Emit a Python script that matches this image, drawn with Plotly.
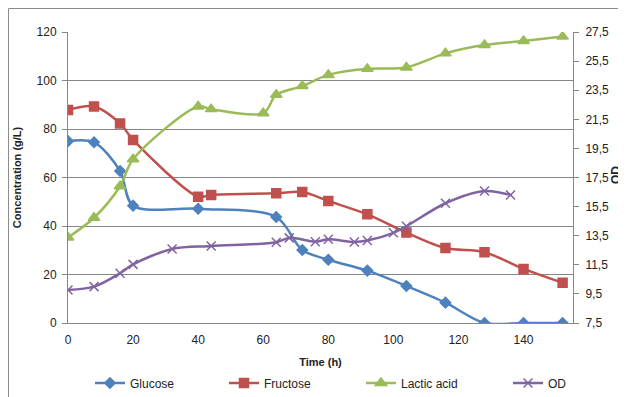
import plotly.graph_objects as go

glu_t = [0, 8, 16, 20, 40, 64, 72, 80, 92, 104, 116, 128, 140, 152]
glu_v = [75.0, 74.5, 62.7, 48.4, 47.1, 43.7, 30.1, 26.1, 21.6, 15.3, 8.4, 0, 0, 0]

fru_t = [0, 8, 16, 20, 40, 44, 64, 72, 80, 92, 104, 116, 128, 140, 152]
fru_v = [87.8, 89.3, 82.3, 75.5, 52.1, 52.8, 53.5, 54.0, 50.3, 44.8, 37.3, 30.9, 29.2, 22.3, 16.6]

lac_t = [0, 8, 16, 20, 40, 44, 60, 64, 72, 80, 92, 104, 116, 128, 140, 152]
lac_v = [35.3, 43.4, 56.4, 67.5, 89.3, 88.2, 86.5, 94.1, 97.7, 102.3, 104.8, 105.4, 111.2, 114.6, 116.3, 118.1]

od_t = [0, 8, 16, 20, 32, 44, 64, 68, 76, 80, 88, 92, 100, 104, 116, 128, 136]
od_v = [9.77, 10.0, 10.92, 11.53, 12.59, 12.79, 13.05, 13.35, 13.09, 13.25, 13.07, 13.17, 13.7, 14.15, 15.73, 16.57, 16.3]

FONT = "Liberation Sans"
W, H = 618, 389
L, T, PW, PH = 60, 24, 505, 291

def px(xf):
    return (xf - L) / PW

def py(yf):
    return (T + PH - yf) / PH

fig = go.Figure()

def add(t, v, name, color, symbol, size, legend, yaxis="y"):
    fig.add_trace(go.Scatter(
        x=t, y=v, name=name, yaxis=yaxis, mode="lines+markers", legend=legend,
        line=dict(color=color, width=2.5, shape="spline", smoothing=0.9),
        marker=dict(symbol=symbol, size=size, color=color,
                    line=dict(color=color, width=1.5)),
    ))

add(glu_t, glu_v, "Glucose", "#4F81BD", "diamond", 8, "legend")
add(fru_t, fru_v, "Fructose", "#C0504D", "square", 9, "legend2")
add(lac_t, lac_v, "Lactic acid", "#9BBB59", "triangle-up", 10, "legend3")
add(od_t, od_v, "OD", "#8064A2", "x-thin-open", 9, "legend4", yaxis="y2")

def leg(xfig):
    return dict(orientation="h", x=px(xfig), y=py(375), xanchor="left", yanchor="middle",
                font=dict(size=12, color="#222"), bgcolor="rgba(0,0,0,0)",
                itemwidth=30)

fig.update_layout(
    width=W, height=H,
    margin=dict(l=L, r=W - L - PW, t=T, b=H - T - PH, autoexpand=False),
    paper_bgcolor="white", plot_bgcolor="white",
    font=dict(family=FONT, size=12, color="#222"),
    separators=",.",
    showlegend=True,
    legend=leg(82), legend2=leg(216), legend3=leg(353), legend4=leg(500),
    xaxis=dict(range=[0, 155.2], tick0=0, dtick=20, showgrid=False,
               showline=True, linecolor="#868686", linewidth=1,
               ticks="", zeroline=False, ticklabelstandoff=6,
               title=dict(text="<b>Time (h)</b>", font=dict(size=11), standoff=11)),
    yaxis=dict(range=[0, 120], tick0=0, dtick=20, showgrid=True, gridcolor="#868686",
               gridwidth=1, showline=True, linecolor="#868686", ticks="outside",
               ticklen=5, tickcolor="#868686", zeroline=False, ticklabelstandoff=3,
               title=dict(text="<b>Concentration (g/L)</b>", font=dict(size=11), standoff=12)),
    yaxis2=dict(range=[7.5, 27.5], tick0=7.5, dtick=2, overlaying="y", side="right",
                showgrid=False, showline=True, linecolor="#868686", ticks="outside",
                ticklen=5, tickcolor="#868686", tickformat=".1f", zeroline=False,
                ticklabelstandoff=4),
    shapes=[dict(type="rect", xref="paper", yref="paper",
                 x0=px(0.5), x1=px(W + 50), y0=py(H + 50), y1=py(0.5),
                 line=dict(color="#8c8c8c", width=1), layer="below")],
    annotations=[dict(text="<b>OD</b>", xref="paper", yref="paper",
                      x=px(617), y=py(167), showarrow=False,
                      textangle=-90, font=dict(size=12, color="#222"))],
)

fig.write_html("out.html")
